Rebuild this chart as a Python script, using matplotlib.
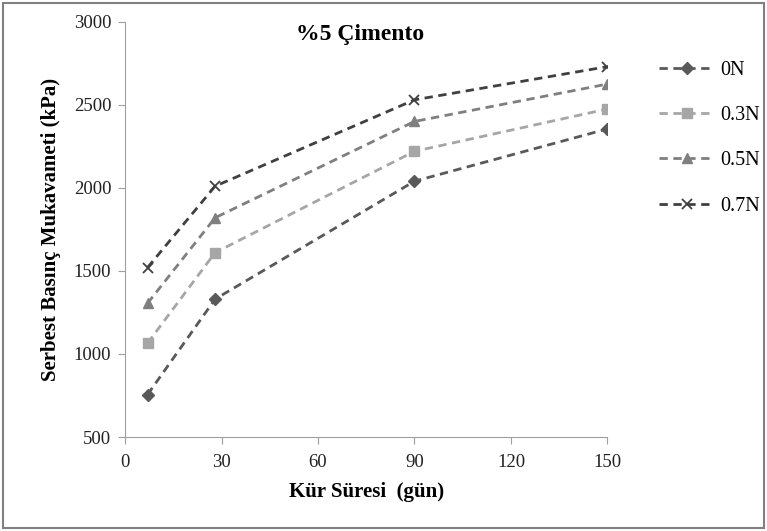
import matplotlib
matplotlib.use("Agg")
import matplotlib.pyplot as plt
from matplotlib.patches import Rectangle

# data
days = [7, 28, 90, 150]
series_names = ["0N", "0.3N", "0.5N", "0.7N"]
v_0N = [755, 1330, 2040, 2355]
v_03N = [1065, 1610, 2220, 2475]
v_05N = [1305, 1820, 2400, 2625]
v_07N = [1520, 2010, 2530, 2730]
x_ticks = [0, 30, 60, 90, 120, 150]
y_ticks = [500, 1000, 1500, 2000, 2500, 3000]

plt.rcParams['font.family'] = ['Liberation Serif', 'DejaVu Serif']

fig = plt.figure(figsize=(7.67, 5.31), dpi=100)
ax = fig.add_axes([0.163, 0.177, 0.629, 0.782])

styles = [
    dict(color='#595959', marker='D', ms=6),
    dict(color='#a6a6a6', marker='s', ms=7),
    dict(color='#7f7f7f', marker='^', ms=7),
    dict(color='#404040', marker='x', ms=7, mew=1.3),
]
for vals, name, st in zip([v_0N, v_03N, v_05N, v_07N], series_names, styles):
    ax.plot(days, vals, linestyle=(0, (3, 2)), lw=2, label=name, **st)

ax.set_xlim(0, 150)
ax.set_ylim(500, 3000)
ax.set_xticks(x_ticks)
ax.set_yticks(y_ticks)
for s in ['top', 'right']:
    ax.spines[s].set_visible(False)
for s in ['left', 'bottom']:
    ax.spines[s].set_color('#a0a0a0')
ax.tick_params(colors='#a0a0a0', labelcolor='#222222', labelsize=13.5, length=5)
ax.tick_params(axis='x', pad=7)
ax.tick_params(axis='y', pad=5)

ax.set_xlabel('Kür Süresi  (gün)', fontsize=15, fontweight='bold', labelpad=8)
ax.set_ylabel('Serbest Basınç Mukavameti (kPa)', fontsize=15, fontweight='bold', labelpad=9)
ax.text(0.487, 0.969, '%5 Çimento', transform=ax.transAxes, ha='center', va='center',
        fontsize=17, fontweight='bold')

ax.legend(loc='upper left', bbox_to_anchor=(1.07, 0.95), frameon=False, fontsize=14.5,
          handlelength=2.7, labelspacing=1.3, handletextpad=0.3)

fig.patches.append(Rectangle((0.004, 0.005), 0.992, 0.99, transform=fig.transFigure,
                             fill=False, edgecolor='#808080', lw=1.5))

fig.savefig('out.png', dpi=100)
